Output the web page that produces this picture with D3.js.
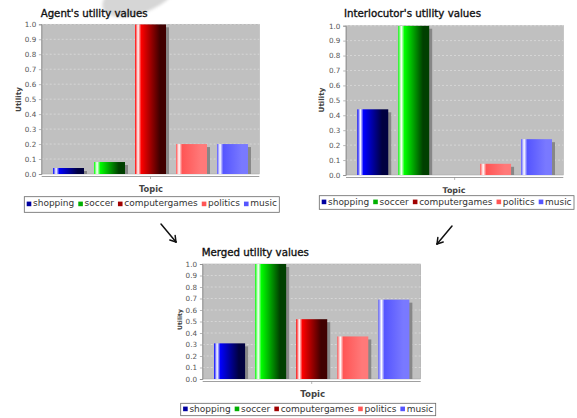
<!DOCTYPE html>
<html>
<head>
<meta charset="utf-8">
<script src="https://cdn.jsdelivr.net/npm/d3@7"></script>
<style>
  html, body { margin: 0; padding: 0; background: #ffffff; }
  svg { display: block; }
</style>
</head>
<body>
<svg id="chart" width="577" height="418"></svg>
<script>
// ---------- DATA ----------
const categories = ["shopping", "soccer", "computergames", "politics", "music"];
const agentValues = [0.04, 0.08, 1.0, 0.2, 0.2];
const interlocutorValues = [0.44, 1.0, 0.0, 0.075, 0.24];
const mergedValues = [0.31, 1.0, 0.52, 0.37, 0.69];
const yTicks = [0.0, 0.1, 0.2, 0.3, 0.4, 0.5, 0.6, 0.7, 0.8, 0.9, 1.0];
const chartTitles = ["Agent's utility values", "Interlocutor's utility values", "Merged utility values"];
const xAxisLabel = "Topic";
const yAxisLabel = "Utility";

// ---------- STYLE ----------
const gradStart = ["#0000ff", "#00ff00", "#ff0000", "#ff5555", "#5555ff"];
const gradEnd   = ["#000040", "#004000", "#400000", "#ff7979", "#7979ff"];
const legendColors = ["#0000a0", "#00b000", "#a00000", "#ff5555", "#5555ff"];
const FONT = "DejaVu Sans, Liberation Sans, sans-serif";

const svg = d3.select("#chart");
const defs = svg.append("defs");

// grey blob at top
defs.append("filter").attr("id", "blur").append("feGaussianBlur").attr("stdDeviation", 1.5);
svg.append("ellipse")
  .attr("cx", 140).attr("cy", -6).attr("rx", 40).attr("ry", 19)
  .attr("transform", "rotate(-22,140,-6)")
  .attr("fill", "#d6d6d6").attr("filter", "url(#blur)");

categories.forEach((c, i) => {
  const g = defs.append("linearGradient").attr("id", "grad" + i)
    .attr("x1", "0%").attr("x2", "100%").attr("y1", "0%").attr("y2", "0%");
  g.append("stop").attr("offset", "0%").attr("stop-color", gradStart[i]);
  g.append("stop").attr("offset", "10%").attr("stop-color", "#ffffff");
  g.append("stop").attr("offset", "20%").attr("stop-color", gradStart[i]);
  g.append("stop").attr("offset", "80%").attr("stop-color", gradEnd[i]);
  g.append("stop").attr("offset", "100%").attr("stop-color", gradEnd[i]);
});

function fitWidth(sel, target) {
  const w = sel.node().getComputedTextLength();
  const fs = parseFloat(sel.attr("font-size"));
  sel.attr("font-size", fs * target / w);
}

const panels = [
  { title: chartTitles[0], values: agentValues,
    plot: { x0: 41.7, x1: 259.3, y0: 24.3, y1: 174 },
    titleX: 40.7, titleY: 17, titleW: 107,
    tickRight: 36.5, yLab: { cx: 18, cy: 99.5, len: 25 },
    topic: { cx: 151, y: 192.3, w: 24 },
    legend: { x: 24.3, y: 196.7, w: 255, h: 15.6, base: 205.8 } },
  { title: chartTitles[1], values: interlocutorValues,
    plot: { x0: 346, x1: 563.3, y0: 25.7, y1: 175 },
    titleX: 344, titleY: 17.3, titleW: 137,
    tickRight: 340.7, yLab: { cx: 321.7, cy: 100, len: 25 },
    topic: { cx: 454, y: 192.7, w: 23 },
    legend: { x: 319.3, y: 195.7, w: 254.7, h: 13.6, base: 205.3 } },
  { title: chartTitles[2], values: mergedValues,
    plot: { x0: 202.7, x1: 420.7, y0: 264, y1: 379 },
    titleX: 201.7, titleY: 255.7, titleW: 107.3,
    tickRight: 197.3, yLab: { cx: 179, cy: 319.5, len: 21 },
    topic: { cx: 312.7, y: 396.7, w: 25 },
    legend: { x: 180.7, y: 403.3, w: 255, h: 12.4, base: 411.6 } }
];

panels.forEach((p, pi) => {
  const g = svg.append("g");
  const P = p.plot;
  const x = d3.scaleBand().domain(categories).range([P.x0, P.x1])
    .paddingInner(0.244).paddingOuter(0.276);
  const y = d3.scaleLinear().domain([0, 1]).range([P.y1, P.y0]);

  // plot background
  g.append("rect").attr("x", P.x0).attr("y", P.y0)
    .attr("width", P.x1 - P.x0).attr("height", P.y1 - P.y0)
    .attr("fill", "#c0c0c0").attr("stroke", "#a0a0a0").attr("stroke-width", 0.5);

  // gridlines
  g.selectAll(".grid").data(yTicks.slice(1)).enter().append("line")
    .attr("x1", P.x0).attr("x2", P.x1)
    .attr("y1", d => y(d)).attr("y2", d => y(d))
    .attr("stroke", "#e4e4e4").attr("stroke-width", 0.6).attr("stroke-dasharray", "2,2");

  // clip
  const clipId = "clip" + pi;
  defs.append("clipPath").attr("id", clipId).append("rect")
    .attr("x", P.x0).attr("y", P.y0).attr("width", P.x1 - P.x0).attr("height", P.y1 - P.y0);
  const bars = g.append("g").attr("clip-path", `url(#${clipId})`);

  const data = categories.map((c, i) => ({ c, i, v: p.values[i] })).filter(d => d.v > 0);
  // shadows
  bars.selectAll(".shadow").data(data).enter().append("rect")
    .attr("x", d => x(d.c) + 3).attr("y", d => y(d.v) + 3)
    .attr("width", x.bandwidth()).attr("height", d => P.y1 - y(d.v))
    .attr("fill", "#878787");
  // bars
  bars.selectAll(".bar").data(data).enter().append("rect")
    .attr("x", d => x(d.c)).attr("y", d => y(d.v))
    .attr("width", x.bandwidth()).attr("height", d => P.y1 - y(d.v))
    .attr("fill", d => `url(#grad${d.i})`);

  // y axis
  const yAxis = d3.axisLeft(y).tickValues(yTicks).tickFormat(d3.format(".1f"))
    .tickSize(2.5).tickPadding(P.x0 - p.tickRight - 2.5);
  const ya = g.append("g").attr("transform", `translate(${P.x0 - 0.3},0)`).call(yAxis);
  ya.select(".domain").attr("stroke", "#888").attr("stroke-width", 0.8);
  ya.selectAll(".tick line").attr("stroke", "#888").attr("stroke-width", 0.6);
  ya.selectAll(".tick text").attr("font-family", FONT).attr("font-size", 7.2).attr("fill", "#555");

  // x axis line (category axis with single tick)
  const ax = g.append("g");
  ax.append("line").attr("x1", P.x0).attr("x2", P.x1)
    .attr("y1", P.y1 + 2.5).attr("y2", P.y1 + 2.5)
    .attr("stroke", "#888").attr("stroke-width", 0.8);
  ax.append("line").attr("x1", (P.x0 + P.x1) / 2).attr("x2", (P.x0 + P.x1) / 2)
    .attr("y1", P.y1 + 2.5).attr("y2", P.y1 + 5)
    .attr("stroke", "#888").attr("stroke-width", 0.6);

  // title
  const t = g.append("text").attr("x", p.titleX).attr("y", p.titleY)
    .attr("font-family", FONT).attr("font-size", 10)
    .attr("fill", "#111").attr("stroke", "#111").attr("stroke-width", 0.35)
    .text(p.title);
  fitWidth(t, p.titleW);

  // y label
  const yl = g.append("text")
    .attr("transform", `translate(${p.yLab.cx},${p.yLab.cy}) rotate(-90)`)
    .attr("text-anchor", "middle").attr("dominant-baseline", "central")
    .attr("font-family", FONT).attr("font-weight", "bold").attr("font-size", 8)
    .attr("fill", "#444").text(yAxisLabel);
  fitWidth(yl, p.yLab.len);

  // x label
  const xl = g.append("text").attr("x", p.topic.cx).attr("y", p.topic.y)
    .attr("text-anchor", "middle")
    .attr("font-family", FONT).attr("font-weight", "bold").attr("font-size", 8)
    .attr("fill", "#444").text(xAxisLabel);
  fitWidth(xl, p.topic.w);

  // legend
  const L = p.legend;
  const lg = g.append("g");
  lg.append("rect").attr("x", L.x).attr("y", L.y).attr("width", L.w).attr("height", L.h)
    .attr("fill", "#fff").attr("stroke", "#666").attr("stroke-width", 0.8);
  const sq = 4.6, padL = 2.4, sqToText = 6.3, gap = 4, padR = 2.4;
  const texts = categories.map(c => lg.append("text").attr("font-family", FONT)
    .attr("font-size", 9).attr("fill", "#333").attr("y", L.base).text(c));
  const widths = texts.map(tt => tt.node().getComputedTextLength());
  const total = d3.sum(widths);
  const targetTotal = L.w - padL - padR - categories.length * sqToText - (categories.length - 1) * gap;
  const scale = targetTotal / total;
  let cx = L.x + padL;
  texts.forEach((tt, i) => {
    tt.attr("font-size", 9 * scale);
    lg.append("rect").attr("x", cx).attr("y", L.y + L.h / 2 - sq / 2 - 0.6)
      .attr("width", sq).attr("height", sq).attr("fill", legendColors[i]);
    tt.attr("x", cx + sqToText);
    cx += sqToText + widths[i] * scale + gap;
  });
});

// arrows
function arrow(x1, y1, x2, y2) {
  const g = svg.append("g").attr("stroke", "#111").attr("stroke-width", 1.5)
    .attr("fill", "none").attr("stroke-linecap", "round");
  g.append("line").attr("x1", x1).attr("y1", y1).attr("x2", x2).attr("y2", y2);
  const a = Math.atan2(y2 - y1, x2 - x1), L = 6.5;
  [a + Math.PI * 0.82, a - Math.PI * 0.82].forEach(b => {
    g.append("line").attr("x1", x2).attr("y1", y2)
      .attr("x2", x2 + L * Math.cos(b)).attr("y2", y2 + L * Math.sin(b));
  });
}
arrow(161, 224, 176, 242);
arrow(452, 226, 437, 244);
</script>
</body>
</html>
